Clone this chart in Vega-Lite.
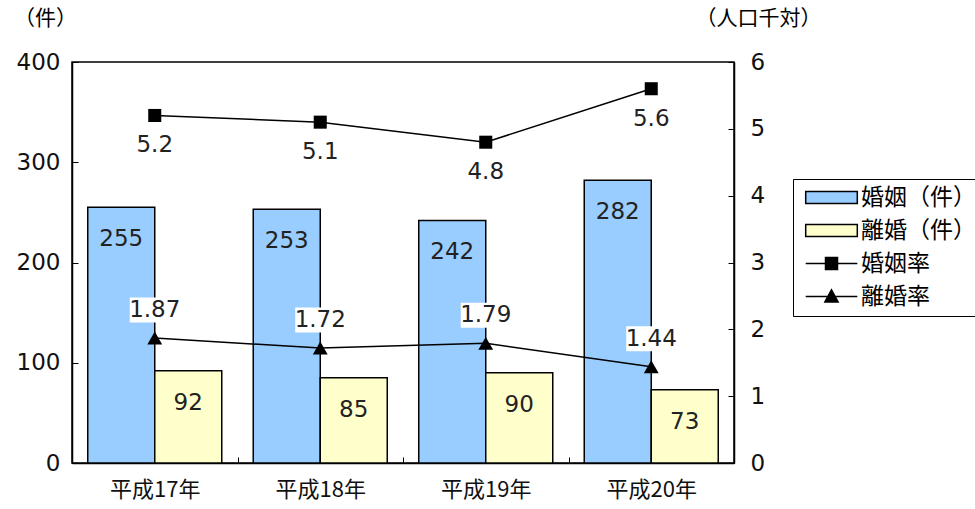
{
  "$schema": "https://vega.github.io/schema/vega-lite/v6.json",
  "autosize": {"type": "none"},
  "width": 662,
  "height": 401,
  "padding": {"left": 72, "top": 62, "right": 241, "bottom": 46},
  "background": "white",
  "config": {
    "font": "Noto Sans CJK JP",
    "view": {"stroke": "black", "strokeWidth": 1.5},
    "axis": {"labelFont": "DejaVu Sans", "titleFont": "Noto Sans CJK JP", "labelColor": "#111111", "titleColor": "black", "domainColor": "black", "tickColor": "black", "grid": false, "domainWidth": 1.5, "tickWidth": 1},
    "legend": {"labelFont": "Noto Sans CJK JP"}
  },
  "datasets": {
    "bars": [
      {"year": "平成17年", "series": "婚姻（件）", "value": 255},
      {"year": "平成17年", "series": "離婚（件）", "value": 92},
      {"year": "平成18年", "series": "婚姻（件）", "value": 253},
      {"year": "平成18年", "series": "離婚（件）", "value": 85},
      {"year": "平成19年", "series": "婚姻（件）", "value": 242},
      {"year": "平成19年", "series": "離婚（件）", "value": 90},
      {"year": "平成20年", "series": "婚姻（件）", "value": 282},
      {"year": "平成20年", "series": "離婚（件）", "value": 73}
    ],
    "rates": [
      {"year": "平成17年", "marriage": 5.2, "divorce": 1.87, "mlabel": "5.2", "dlabel": "1.87"},
      {"year": "平成18年", "marriage": 5.1, "divorce": 1.72, "mlabel": "5.1", "dlabel": "1.72"},
      {"year": "平成19年", "marriage": 4.8, "divorce": 1.79, "mlabel": "4.8", "dlabel": "1.79"},
      {"year": "平成20年", "marriage": 5.6, "divorce": 1.44, "mlabel": "5.6", "dlabel": "1.44"}
    ]
  },
  "encoding": {
    "x": {
      "field": "year", "type": "nominal", "sort": null,
      "scale": {"paddingInner": 0, "paddingOuter": 0},
      "axis": {"title": null, "labelAngle": 0, "labelFont": "Noto Sans CJK JP", "labelFontSize": 22, "labelPadding": 22, "tickBand": "extent", "tickSize": -6, "ticks": true}
    }
  },
  "layer": [
    {
      "data": {"name": "bars"},
      "encoding": {
        "y": {
          "field": "value", "type": "quantitative",
          "scale": {"domain": [0, 400], "nice": false},
          "axis": {"orient": "left", "values": [0, 100, 200, 300, 400], "labelFontSize": 23, "tickSize": -6, "labelPadding": 18, "title": "（件）", "titleAngle": 0, "titleX": -27, "titleY": -44, "titleFontSize": 21, "titleFontWeight": "normal", "titleAlign": "center", "titleBaseline": "middle"}
        },
        "xOffset": {"field": "series", "type": "nominal", "sort": ["婚姻（件）", "離婚（件）"], "scale": {"paddingInner": 0, "paddingOuter": 0.235}}
      },
      "layer": [
        {
          "mark": {"type": "bar", "stroke": "black", "strokeWidth": 1.5},
          "encoding": {
            "color": {
              "field": "series", "type": "nominal",
              "scale": {"domain": ["婚姻（件）", "離婚（件）", "婚姻率", "離婚率"], "range": ["#99CCFF", "#FFFFCC", "#000000", "#000000"]},
              "legend": {
                "title": null, "orient": "none", "legendX": 721, "legendY": 117,
                "strokeColor": "black", "fillColor": "white", "padding": 7,
                "labelFontSize": 23, "labelColor": "black", "symbolSize": 144,
                "symbolOffset": 20, "labelOffset": 18, "rowPadding": 9,
                "symbolStrokeColor": "black", "symbolStrokeWidth": 1.5,
                "encode": {
                  "symbols": {
                    "update": {
                      "shape": {"signal": "datum.value === '婚姻率' ? 'M-4.3,0H4.3M-1,-1H1V1H-1Z' : datum.value === '離婚率' ? 'M-4.3,0H4.3M-1.1,0.9L0,-1.1L1.1,0.9Z' : 'M-4.3,-1H4.3V1H-4.3Z'"},
                      "stroke": {"value": "black"},
                      "strokeWidth": {"value": 1.5}
                    }
                  }
                }
              }
            }
          }
        },
        {
          "mark": {"type": "text", "font": "DejaVu Sans", "fontSize": 23, "baseline": "middle", "align": "center", "dy": 32, "color": "#222222"},
          "encoding": {"text": {"field": "value", "type": "quantitative"}}
        }
      ]
    },
    {
      "data": {"name": "rates"},
      "encoding": {
        "y": {
          "field": "marriage", "type": "quantitative",
          "scale": {"domain": [0, 6], "nice": false},
          "axis": {"orient": "right", "values": [0, 1, 2, 3, 4, 5, 6], "labelFontSize": 23, "tickSize": -6, "labelPadding": 22, "title": "（人口千対）", "titleAngle": 0, "titleX": 24, "titleY": -44, "titleFontSize": 21, "titleFontWeight": "normal", "titleAlign": "center", "titleBaseline": "middle"}
        }
      },
      "layer": [
        {
          "mark": {"type": "line", "color": "black", "strokeWidth": 1.5},
          "encoding": {}
        },
        {
          "mark": {"type": "point", "shape": "square", "filled": true, "color": "black", "size": 170, "opacity": 1},
          "encoding": {}
        },
        {
          "mark": {"type": "text", "font": "DejaVu Sans", "fontSize": 23, "baseline": "middle", "align": "center", "dy": 30, "color": "#222222"},
          "encoding": {"text": {"field": "mlabel"}}
        },
        {
          "mark": {"type": "line", "color": "black", "strokeWidth": 1.5},
          "encoding": {"y": {"field": "divorce", "type": "quantitative"}}
        },
        {
          "mark": {"type": "point", "shape": "triangle-up", "filled": true, "color": "black", "size": 220, "opacity": 1},
          "encoding": {"y": {"field": "divorce", "type": "quantitative"}}
        },
        {
          "mark": {"type": "point", "shape": "M-1,-0.5H1V0.5H-1Z", "filled": true, "color": "white", "size": 2500, "opacity": 1, "yOffset": -28},
          "encoding": {"y": {"field": "divorce", "type": "quantitative"}}
        },
        {
          "mark": {"type": "text", "font": "DejaVu Sans", "fontSize": 23, "baseline": "middle", "align": "center", "dy": -28, "color": "#222222"},
          "encoding": {"y": {"field": "divorce", "type": "quantitative"}, "text": {"field": "dlabel"}}
        }
      ]
    }
  ],
  "resolve": {"scale": {"y": "independent"}}
}
